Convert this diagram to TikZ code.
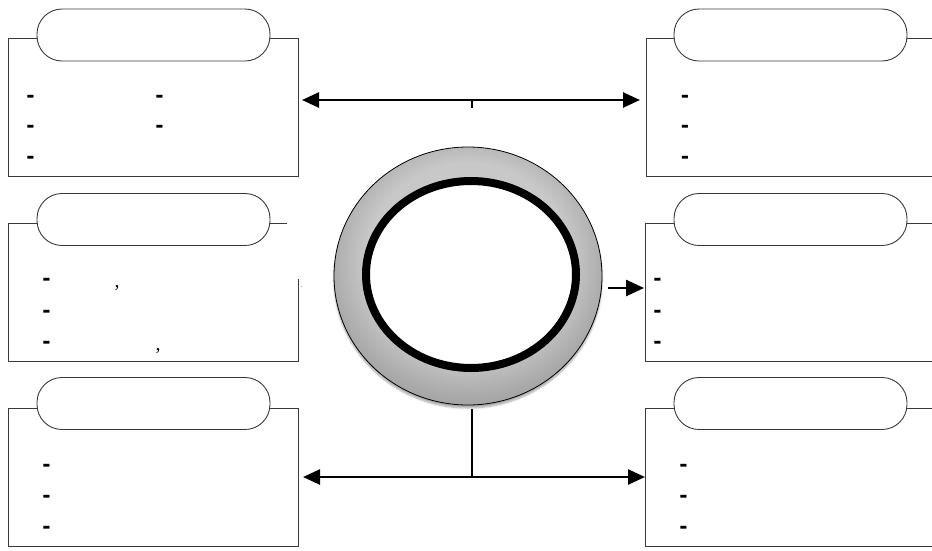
\documentclass[tikz,border=0pt]{standalone}
\usepackage{fontspec}
\setmainfont{Liberation Serif}
\newfontfamily\dashface[BoldFont={DejaVu Sans Bold}]{DejaVu Sans}
\usetikzlibrary{arrows.meta, shapes.geometric, shadows.blur}

\definecolor{boxline}{HTML}{3A3A3A}
\definecolor{ringlight}{HTML}{C8C8C8}
\definecolor{ringmid}{HTML}{A9A9A9}
\definecolor{ringdeep}{HTML}{979797}
\definecolor{ringdark}{HTML}{808080}

% grey band of the central ring: light at the top, darker towards the rim
\pgfdeclareradialshading{ringshade}{\pgfpoint{0bp}{4bp}}{%
  color(0bp)=(ringlight); color(19bp)=(ringlight);
  color(26bp)=(ringmid); color(32bp)=(ringdeep); color(38bp)=(ringdark);
  color(72bp)=(ringdark)}

\begin{document}
\begin{tikzpicture}[x=1pt, y=-1pt,
  panel/.style={draw=boxline, line width=0.9pt, inner sep=0pt},
  tab/.style={draw=boxline, line width=0.9pt, fill=white, rounded corners=25pt,
    minimum width=233pt, minimum height=52pt, inner sep=0pt},
  dashmark/.style={font=\dashface\bfseries\fontsize{20}{20}\selectfont,
    inner sep=0pt, anchor=base, yshift=-5.4pt},
  commamark/.style={font=\fontsize{20}{20}\selectfont, inner sep=0pt},
  conn/.style={line width=2.6pt, draw=black},
  >={Triangle[length=17pt, width=15pt]}]

\useasboundingbox (0,0) rectangle (932,550);
\clip (0,0) rectangle (932,550);

% ---- left column panels ----
\node[panel, minimum width=290pt, minimum height=138pt] (tlbox) at (153,107) {};
\draw[panel] (287,223) -- (8,223) -- (8,361) -- (298,361) -- (298,279);
\node[panel, minimum width=290pt, minimum height=138pt] (blbox) at (153,477) {};

% ---- right column panels (running off the right edge) ----
\draw[panel] (940,38) -- (646,38) -- (646,176) -- (940,176);
\draw[panel] (940,223) -- (645,223) -- (645,361) -- (940,361);
\draw[panel] (940,408) -- (645,408) -- (645,546) -- (940,546);

% ---- title tabs ----
\node[tab] (tltab) at (153.5,35) {};
\node[tab] (mltab) at (153.5,219.5) {};
\node[tab] (bltab) at (153.5,403.5) {};
\node[tab] (trtab) at (790.5,35) {};
\node[tab] (mrtab) at (790.5,219.5) {};
\node[tab] (brtab) at (790.5,403.5) {};

% ---- bullet marks ----
\foreach \y [count=\i] in {97,127,158}
  \node[dashmark] (tla\i) at (30.5,\y) {-};
\foreach \y [count=\i] in {97,127}
  \node[dashmark] (tlb\i) at (159.5,\y) {-};
\foreach \y [count=\i] in {280,312,343}
  \node[dashmark] (ml\i) at (46.5,\y) {-};
\foreach \y [count=\i] in {466,497,528}
  \node[dashmark] (bl\i) at (46.5,\y) {-};
\foreach \y [count=\i] in {97,127,158}
  \node[dashmark] (tr\i) at (685,\y) {-};
\foreach \y [count=\i] in {280,312,343}
  \node[dashmark] (mr\i) at (657.5,\y) {-};
\foreach \y [count=\i] in {466,497,528}
  \node[dashmark] (br\i) at (683.5,\y) {-};

\node[commamark] (c1) at (117,288) {,};
\node[commamark] (c2) at (158,351) {,};
\node[font=\fontsize{6}{6}\selectfont, inner sep=0pt] (dot1) at (301.5,287) {.};

% ---- central ring ----
\node[ellipse, minimum width=268pt, minimum height=258pt, draw=black, line width=0.8pt,
  shading=ringshade,
  blur shadow={shadow xshift=0pt, shadow yshift=-3pt, shadow blur steps=6, shadow opacity=35}]
  (ring) at (468,276) {};
\node[ellipse, minimum width=210pt, minimum height=187pt, draw=black, line width=8pt,
  fill=white] (core) at (471,274.5) {};

% ---- connectors ----
\coordinate (topL) at (302,100);
\coordinate (topR) at (640,100);
\coordinate (topM) at (472,100);
\coordinate (topTick) at (472,108);
\draw[conn, <->] (topL) -- (topR);
\draw[line width=2pt] (topM) -- (topTick);

\coordinate (sideA) at (608,288);
\coordinate (sideB) at (644,288);
\draw[conn, -{Triangle[length=18pt, width=16pt]}] (sideA) -- (sideB);

\coordinate (stemTop) at (472,409);
\coordinate (stemFoot) at (472,477);
\coordinate (botL) at (303,477);
\coordinate (botR) at (645,477);
\draw[line width=2.4pt] (stemTop) -- (stemFoot);
\draw[conn, <->] (botL) -- (botR);

\end{tikzpicture}
\end{document}
